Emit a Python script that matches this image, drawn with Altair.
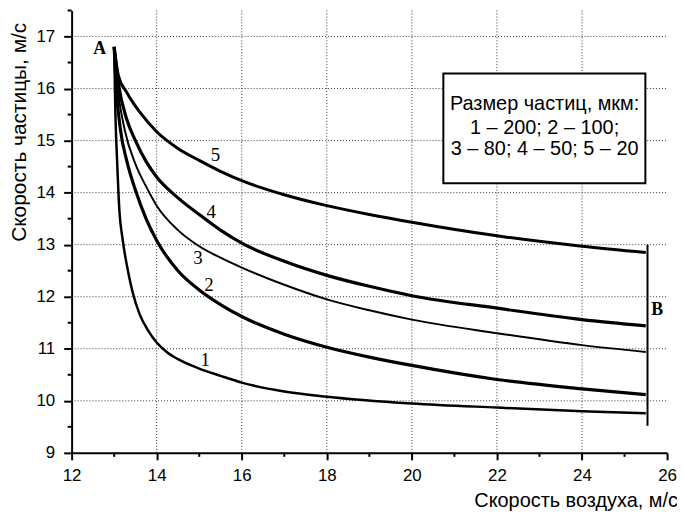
import altair as alt
import pandas as pd

# ---- data ----
curve_names = ["1", "2", "3", "4", "5"]

c1_x = [13.0, 13.03, 13.07, 13.12, 13.2, 13.3, 13.43, 13.6, 13.8, 14.0, 14.25, 14.5, 15.0, 15.5, 16.0, 17.0, 18.0, 20.0, 22.0, 24.0, 25.5]
c1_y = [16.8, 15.5, 14.6, 13.7, 13.1, 12.6, 12.1, 11.66, 11.35, 11.12, 10.93, 10.8, 10.62, 10.48, 10.35, 10.18, 10.08, 9.95, 9.87, 9.8, 9.76]

c2_x = [13.0, 13.05, 13.15, 13.3, 13.5, 13.75, 14.0, 14.5, 15.0, 15.5, 16.0, 17.0, 18.0, 19.0, 20.0, 22.0, 24.0, 25.5]
c2_y = [16.8, 16.0, 15.2, 14.6, 14.05, 13.5, 13.08, 12.5, 12.13, 11.85, 11.62, 11.28, 11.03, 10.84, 10.68, 10.41, 10.23, 10.12]

c3_x = [13.0, 13.1, 13.25, 13.5, 13.75, 14.0, 14.5, 15.0, 15.5, 16.0, 17.0, 18.0, 19.0, 20.0, 22.0, 24.0, 25.5]
c3_y = [16.8, 15.9, 15.2, 14.55, 14.12, 13.75, 13.28, 12.97, 12.75, 12.56, 12.23, 11.95, 11.74, 11.56, 11.3, 11.07, 10.94]

c4_x = [13.0, 13.1, 13.3, 13.5, 13.75, 14.0, 14.5, 15.0, 15.5, 16.0, 17.0, 18.0, 19.0, 20.0, 22.0, 24.0, 25.5]
c4_y = [16.8, 16.1, 15.4, 15.0, 14.6, 14.3, 13.9, 13.58, 13.28, 13.03, 12.68, 12.41, 12.2, 12.02, 11.78, 11.56, 11.44]

c5_x = [13.0, 13.1, 13.3, 13.6, 14.0, 14.5, 15.0, 15.5, 16.0, 17.0, 18.0, 19.0, 20.0, 22.0, 24.0, 25.5]
c5_y = [16.8, 16.25, 15.92, 15.55, 15.17, 14.85, 14.62, 14.41, 14.23, 13.96, 13.75, 13.58, 13.43, 13.17, 12.97, 12.85]

curve_label_x = [15.14, 15.23, 14.97, 15.28, 15.38]
curve_label_y = [10.78, 12.23, 12.74, 13.62, 14.72]

point_names = ["A", "B"]
point_x = [12.66, 25.77]
point_y = [16.75, 11.75]

b_line_x = [25.54]
b_line_y = [9.52]
b_line_y2 = [13.0]

legend_lines = ["Размер частиц, мкм:", "1 – 200; 2 – 100;", "3 – 80; 4 – 50; 5 – 20"]
legend_line_y = [15.70, 15.24, 14.84]
legend_x = 23.12
legend_box = {"x": 20.74, "x2": 25.49, "y": 14.18, "y2": 16.29}

x_title = "Скорость воздуха, м/с"
y_title = "Скорость частицы, м/с"
x_major = [12, 14, 16, 18, 20, 22, 24, 26]
x_minor = [13, 15, 17, 19, 21, 23, 25]
y_major = [9, 10, 11, 12, 13, 14, 15, 16, 17]
y_minor = [9.5, 10.5, 11.5, 12.5, 13.5, 14.5, 15.5, 16.5, 17.5]
x_grid = [14, 16, 18, 20, 22, 24]
y_grid = [10, 11, 12, 13, 14, 15, 16, 17]

# ---- chart ----
W, H = 599, 445
FONT = "Liberation Sans"
SERIF = "Liberation Serif"
GRID_DASH = [1, 2]
GRID_COLOR = "#333333"

xs = alt.Scale(domain=[12, 26], nice=False, zero=False)
ys = alt.Scale(domain=[9, 17.5], nice=False, zero=False)

x_axis = alt.Axis(
    values=x_major, format="d",
    title=x_title,
    titleFont=FONT, titleFontSize=20, titleFontWeight="normal", titleColor="black",
    titleX=507, titleY=54, titleBaseline="alphabetic", titleAlign="center",
    labelFont=FONT, labelFontSize=17, labelColor="black", labelPadding=8,
    labelFlush=False, labelOverlap=False,
    domainColor="black", domainWidth=2,
    tickColor="black", tickWidth=2, tickSize=7,
    grid=False,
)
y_axis = alt.Axis(
    values=y_major, format="d",
    title=y_title,
    titleFont=FONT, titleFontSize=21, titleFontWeight="normal", titleColor="black",
    titleX=-52, titleY=122, titleAngle=270, titleBaseline="middle", titleAlign="center",
    labelFont=FONT, labelFontSize=17, labelColor="black", labelPadding=9,
    labelFlush=False, labelOverlap=False,
    domainColor="black", domainWidth=2,
    tickColor="black", tickWidth=2, tickSize=8,
    grid=False,
)


def X(field="x"):
    return alt.X(f"{field}:Q", scale=xs, axis=x_axis, title=x_title)


def Y(field="y"):
    return alt.Y(f"{field}:Q", scale=ys, axis=y_axis, title=y_title)


layers = []

# dotted grid
gx = pd.DataFrame({"x": x_grid})
layers.append(
    alt.Chart(gx).mark_rule(color=GRID_COLOR, strokeWidth=1, strokeDash=GRID_DASH)
    .encode(x=X(), y=alt.value(0), y2=alt.value(H))
)
gy = pd.DataFrame({"y": y_grid})
layers.append(
    alt.Chart(gy).mark_rule(color=GRID_COLOR, strokeWidth=1, strokeDash=GRID_DASH)
    .encode(y=Y(), x=alt.value(0), x2=alt.value(W))
)

# minor ticks
mx = pd.DataFrame({"x": x_minor})
layers.append(
    alt.Chart(mx).mark_rule(color="black", strokeWidth=2)
    .encode(x=X(), y=alt.value(H), y2=alt.value(H + 4))
)
my = pd.DataFrame({"y": y_minor})
layers.append(
    alt.Chart(my).mark_rule(color="black", strokeWidth=2)
    .encode(y=Y(), x=alt.value(0), x2=alt.value(-4))
)

curves = [(c1_x, c1_y), (c2_x, c2_y), (c3_x, c3_y), (c4_x, c4_y), (c5_x, c5_y)]
widths = [2.5, 3.2, 2.0, 3.2, 3.0]

for i, ((cx, cy), name) in enumerate(zip(curves, curve_names)):
    df = pd.DataFrame({"x": cx, "y": cy, "curve": name})
    layers.append(
        alt.Chart(df).mark_line(color="black", strokeWidth=widths[i], interpolate="monotone")
        .encode(x=X(), y=Y(), order="x:Q")
    )

# vertical line at B
bdf = pd.DataFrame({"x": b_line_x, "y": b_line_y, "y2": b_line_y2})
layers.append(
    alt.Chart(bdf).mark_rule(color="black", strokeWidth=2)
    .encode(x=X(), y=Y(), y2="y2:Q")
)

# curve numbers
ldf = pd.DataFrame({"x": curve_label_x, "y": curve_label_y, "t": curve_names})
layers.append(
    alt.Chart(ldf).mark_text(font=SERIF, fontSize=19, color="black")
    .encode(x=X(), y=Y(), text="t:N")
)

# A and B
pdf = pd.DataFrame({"x": point_x, "y": point_y, "t": point_names})
layers.append(
    alt.Chart(pdf).mark_text(font=SERIF, fontSize=18, color="black", fontWeight="bold")
    .encode(x=X(), y=Y(), text="t:N")
)

# legend box
boxdf = pd.DataFrame([legend_box])
layers.append(
    alt.Chart(boxdf).mark_rect(fill="white", stroke="black", strokeWidth=2)
    .encode(x=X(), x2="x2:Q", y=Y(), y2="y2:Q")
)
tdf = pd.DataFrame({"x": [legend_x] * len(legend_lines), "y": legend_line_y, "t": legend_lines})
layers.append(
    alt.Chart(tdf).mark_text(font=FONT, fontSize=20, color="black", align="center", baseline="middle")
    .encode(x=X(), y=Y(), text="t:N")
)

chart = alt.layer(*layers).properties(
    width=W, height=H,
    autosize=alt.AutoSizeParams(type="none"),
    padding={"left": 64, "top": 1, "right": 10, "bottom": 60},
    background="white",
).configure_view(stroke=None)

chart.save("out.html", embed_options={"renderer": "svg", "actions": False})
